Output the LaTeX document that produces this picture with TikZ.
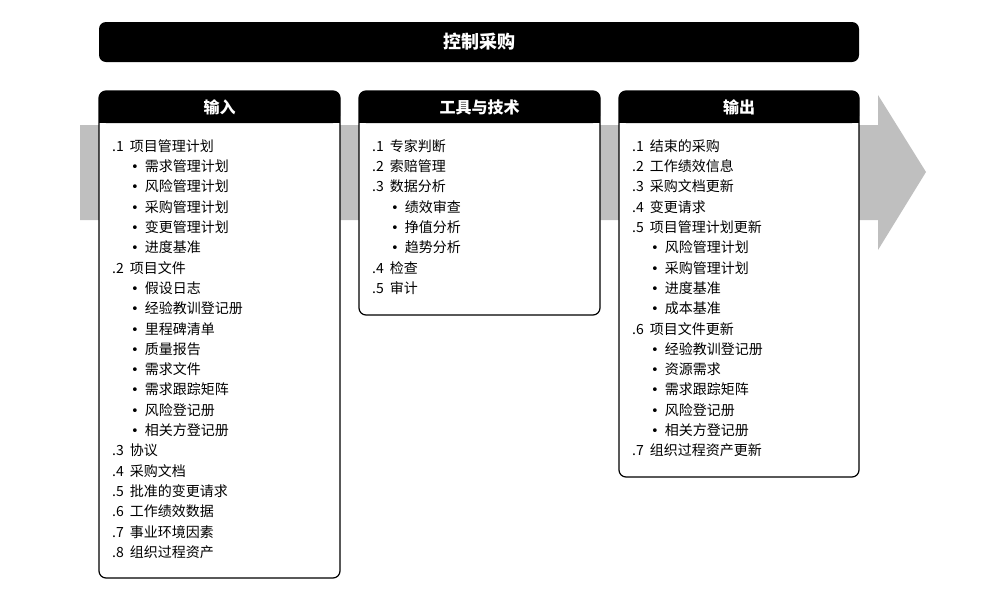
\documentclass[tikz,border=0pt]{standalone}
\usepackage{fontspec}
\setmainfont{Noto Sans CJK SC}
\newfontfamily\bulf{DejaVu Sans}
\begin{document}
\begin{tikzpicture}[x=1pt,y=-1pt,
  hdr/.style={fill=black,rounded corners=7pt},
  panel/.style={draw=black,line width=1.2pt,fill=white,rounded corners=7pt},
  htxt/.style={text=white,font=\fontsize{16}{16}\selectfont\bfseries},
  it/.style={anchor=west,inner sep=0pt,font=\fontsize{14}{14}\selectfont}]
\useasboundingbox (0,0) rectangle (994,600);
\fill[black!25] (80,125) -- (878,125) -- (878,95) -- (926,172) -- (878,250) -- (878,220) -- (80,220) -- cycle;
\fill[hdr] (99,22) rectangle (859,62);
\node[htxt,font=\fontsize{18}{18}\selectfont\bfseries] (title) at (479,42) {控制采购};
\newcommand\mypanel[4]{%
  \draw[panel] (#1,91) rectangle (#2,#3);
  \fill[black,rounded corners=7pt] (#1,91) -- (#1,123) -- (#2,123) -- (#2,91) -- cycle;
  \fill[black] (#1,110) rectangle (#2,123);
  \node[htxt] at ({(#1+#2)/2},107) {#4};}
\mypanel{99}{340}{578}{输入}
\mypanel{359}{600}{315}{工具与技术}
\mypanel{619}{859}{477}{输出}
\newcommand\B{\hspace{19pt}{\bulf\fontsize{13}{13}\selectfont •}\hspace{6pt}}
\newcommand\items[2]{%
  \foreach \t [count=\i] in {#2} {%
    \node[it] at (#1,{146+20.3*(\i-1)}) {\t};}}
\items{112}{.1\hspace{6pt}项目管理计划,\B 需求管理计划,\B 风险管理计划,\B 采购管理计划,\B 变更管理计划,\B 进度基准,.2\hspace{6pt}项目文件,\B 假设日志,\B 经验教训登记册,\B 里程碑清单,\B 质量报告,\B 需求文件,\B 需求跟踪矩阵,\B 风险登记册,\B 相关方登记册,.3\hspace{6pt}协议,.4\hspace{6pt}采购文档,.5\hspace{6pt}批准的变更请求,.6\hspace{6pt}工作绩效数据,.7\hspace{6pt}事业环境因素,.8\hspace{6pt}组织过程资产}
\items{372}{.1\hspace{6pt}专家判断,.2\hspace{6pt}索赔管理,.3\hspace{6pt}数据分析,\B 绩效审查,\B 挣值分析,\B 趋势分析,.4\hspace{6pt}检查,.5\hspace{6pt}审计}
\items{632}{.1\hspace{6pt}结束的采购,.2\hspace{6pt}工作绩效信息,.3\hspace{6pt}采购文档更新,.4\hspace{6pt}变更请求,.5\hspace{6pt}项目管理计划更新,\B 风险管理计划,\B 采购管理计划,\B 进度基准,\B 成本基准,.6\hspace{6pt}项目文件更新,\B 经验教训登记册,\B 资源需求,\B 需求跟踪矩阵,\B 风险登记册,\B 相关方登记册,.7\hspace{6pt}组织过程资产更新}
\end{tikzpicture}
\end{document}
